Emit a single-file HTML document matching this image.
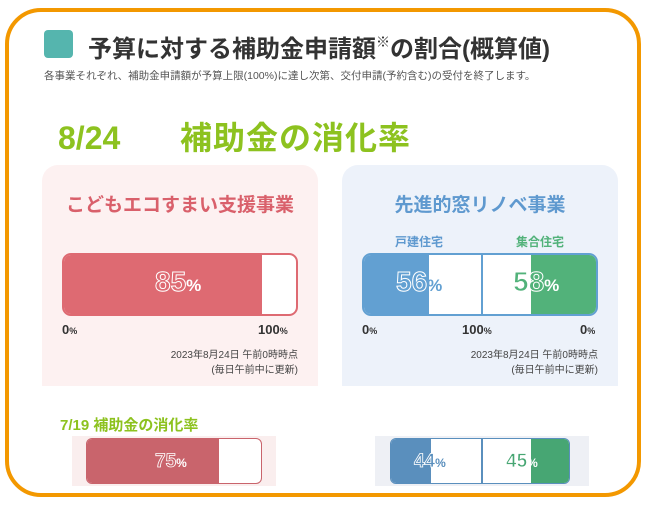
<!DOCTYPE html>
<html><head><meta charset="utf-8"><style>
*{margin:0;padding:0;box-sizing:border-box}
body{width:646px;height:512px;background:#fff;position:relative;overflow:hidden;font-family:"Liberation Sans","Noto Sans CJK JP",sans-serif}
.a{position:absolute}
.frame{left:5px;top:8px;width:636px;height:489px;border:4px solid #f39800;border-radius:36px}
.big{font-size:28px;font-weight:bold;-webkit-text-stroke:1px #fff}
.big span{font-size:17px;-webkit-text-stroke:0}
.sm{font-size:19px;font-weight:bold;-webkit-text-stroke:0.8px #fff}
.sm span{font-size:12px;-webkit-text-stroke:0}
.lab{font-size:13px;font-weight:bold;color:#333}
.lab small{font-size:9px}
.dt{font-size:10px;color:#444;text-align:right;line-height:15px}
</style></head><body>
<div class="a frame"></div>
<div class="a" style="left:44px;top:30px;width:29px;height:28px;background:#55b5ae;border-radius:4px"></div>
<div class="a" style="left:88px;top:29px;font-size:24px;font-weight:bold;color:#333;white-space:nowrap">予算に対する補助金申請額<span style="font-size:14px;vertical-align:10px">※</span>の割合(概算値)</div>
<div class="a" style="left:44px;top:68px;font-size:10.5px;color:#555;white-space:nowrap">各事業それぞれ、補助金申請額が予算上限(100%)に達し次第、交付申請(予約含む)の受付を終了します。</div>
<div class="a" style="left:58px;top:116px;font-size:32px;line-height:44px;font-weight:bold;color:#8dc21f;white-space:nowrap"><span style="display:inline-block;width:122px">8/24</span><span style="letter-spacing:1px">補助金の消化率</span></div>

<div class="a" style="left:42px;top:165px;width:276px;height:221px;background:#fdf1f1;border-radius:16px 16px 0 0"></div>
<div class="a" style="left:42px;top:190px;width:276px;text-align:center;font-size:19px;font-weight:bold;color:#d9606b">こどもエコすまい支援事業</div>
<div class="a" style="left:62px;top:253px;width:236px;height:63px;background:#fff;border:2px solid #de6a72;border-radius:9px;overflow:hidden"><div style="width:198px;height:100%;background:#de6a72"></div></div>
<div class="a big" style="left:155px;top:266px;color:#de6a72">85<span style="color:#fff">%</span></div>
<div class="a lab" style="left:62px;top:322px">0<small>%</small></div>
<div class="a lab" style="left:258px;top:322px">100<small>%</small></div>
<div class="a dt" style="left:100px;top:348px;width:198px">2023年8月24日 午前0時時点<br>(毎日午前中に更新)</div>

<div class="a" style="left:342px;top:165px;width:276px;height:221px;background:#edf2fa;border-radius:16px 16px 0 0"></div>
<div class="a" style="left:342px;top:190px;width:276px;text-align:center;font-size:19px;font-weight:bold;color:#5f99cf">先進的窓リノベ事業</div>
<div class="a" style="left:395px;top:233px;font-size:12px;font-weight:bold;color:#5f99cf">戸建住宅</div>
<div class="a" style="left:516px;top:233px;font-size:12px;font-weight:bold;color:#52b27a">集合住宅</div>
<div class="a" style="left:362px;top:253px;width:236px;height:63px;background:#fff;border:2px solid #62a0d2;border-radius:9px;overflow:hidden">
<div class="a" style="left:0;top:0;width:65px;height:100%;background:#62a0d2"></div>
<div class="a" style="left:117px;top:0;width:2px;height:100%;background:#62a0d2"></div>
<div class="a" style="left:167px;top:0;width:70px;height:100%;background:#52b27a"></div></div>
<div class="a big" style="left:396px;top:266px;color:#62a0d2">56<span style="color:#62a0d2">%</span></div>
<div class="a big" style="left:513px;top:266px;color:#52b27a">58<span style="color:#fff">%</span></div>
<div class="a lab" style="left:362px;top:322px">0<small>%</small></div>
<div class="a lab" style="left:462px;top:322px">100<small>%</small></div>
<div class="a lab" style="left:580px;top:322px">0<small>%</small></div>
<div class="a dt" style="left:400px;top:348px;width:198px">2023年8月24日 午前0時時点<br>(毎日午前中に更新)</div>

<div class="a" style="left:60px;top:414px;font-size:15px;font-weight:bold;color:#8dc21f;white-space:nowrap">7/19 補助金の消化率</div>
<div class="a" style="left:72px;top:436px;width:204px;height:50px;background:#faeeee"></div>
<div class="a" style="left:86px;top:438px;width:176px;height:46px;background:#fff;border:1.5px solid #c9646c;border-radius:6px;overflow:hidden"><div style="width:132px;height:100%;background:#c9646c"></div></div>
<div class="a sm" style="left:155px;top:451px;color:#c9646c">75<span style="color:#fff">%</span></div>
<div class="a" style="left:375px;top:436px;width:214px;height:50px;background:#eef0f5"></div>
<div class="a" style="left:390px;top:438px;width:180px;height:46px;background:#fff;border:1.5px solid #5a8fbd;border-radius:6px;overflow:hidden">
<div class="a" style="left:0;top:0;width:40px;height:100%;background:#5a8fbd"></div>
<div class="a" style="left:90px;top:0;width:1.5px;height:100%;background:#5a8fbd"></div>
<div class="a" style="left:140px;top:0;width:40px;height:100%;background:#47a673"></div></div>
<div class="a sm" style="left:414px;top:451px;color:#5a8fbd">44<span style="color:#5a8fbd">%</span></div>
<div class="a sm" style="left:506px;top:451px;color:#47a673">45<span style="color:#fff">%</span></div>
</body></html>
